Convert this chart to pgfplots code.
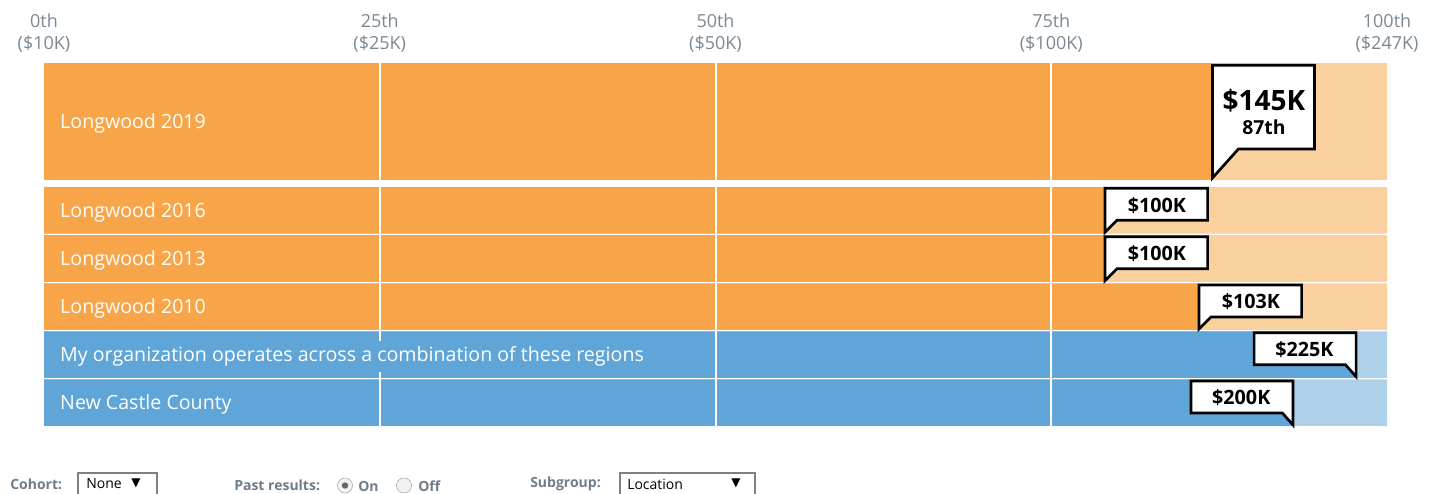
\documentclass[border=0pt]{standalone}
\usepackage{pgfplots}
\pgfplotsset{compat=1.18}
\usepackage{fontspec}
\setmainfont{Open Sans}
\newfontfamily\symfont{DejaVu Sans}
\definecolor{orD}{RGB}{247,165,72}
\definecolor{orL}{RGB}{249,208,158}
\definecolor{blD}{RGB}{96,165,216}
\definecolor{blL}{RGB}{174,209,233}
\definecolor{tickgray}{RGB}{122,136,150}
\definecolor{uigray}{RGB}{110,125,140}
% callout marks, 1px = 0.75pt; tip at data point
\pgfdeclareplotmark{callL}{%
  \pgfpathmoveto{\pgfpoint{0pt}{0pt}}%
  \pgfpathlineto{\pgfpoint{0pt}{33pt}}%
  \pgfpathlineto{\pgfpoint{77pt}{33pt}}%
  \pgfpathlineto{\pgfpoint{77pt}{9pt}}%
  \pgfpathlineto{\pgfpoint{9pt}{9pt}}%
  \pgfpathclose
  \pgfusepathqfillstroke}
\pgfdeclareplotmark{callBig}{%
  \pgfpathmoveto{\pgfpoint{0pt}{0pt}}%
  \pgfpathlineto{\pgfpoint{0pt}{84.5pt}}%
  \pgfpathlineto{\pgfpoint{76.5pt}{84.5pt}}%
  \pgfpathlineto{\pgfpoint{76.5pt}{21.75pt}}%
  \pgfpathlineto{\pgfpoint{19.5pt}{21.75pt}}%
  \pgfpathclose
  \pgfusepathqfillstroke}
\pgfdeclareplotmark{callR}{%
  \pgfpathmoveto{\pgfpoint{0pt}{0pt}}%
  \pgfpathlineto{\pgfpoint{0pt}{33pt}}%
  \pgfpathlineto{\pgfpoint{-76.5pt}{33pt}}%
  \pgfpathlineto{\pgfpoint{-76.5pt}{9pt}}%
  \pgfpathlineto{\pgfpoint{-8pt}{9pt}}%
  \pgfpathclose
  \pgfusepathqfillstroke}
\begin{document}
\begin{tikzpicture}
\begin{axis}[
  at={(0pt,0pt)}, anchor=south west,
  scale only axis, width=1074.75pt, height=369.75pt,
  xmin=-3.2762, xmax=103.4252, ymin=0, ymax=493,
  clip=false,
  axis line style={draw=none},
  major tick length=0pt,
  ytick=\empty,
  xtick={0,25,50,75,100},
  xticklabels={{0th\\(\$10K)},{25th\\(\$25K)},{50th\\(\$50K)},{75th\\(\$100K)},{100th\\(\$247K)}},
  xticklabel pos=upper,
  xticklabel style={align=center, text=tickgray, font=\fontsize{13.5}{16.5}\selectfont, anchor=north, yshift=-6.5pt},
  callout/.style={only marks, mark options={fill=white, draw=black, line width=2pt, line join=miter}},
]
% full-width (light) bars
\addplot[xbar, bar shift=0pt, bar width=117, draw=none, fill=orL] coordinates {(100,371.5)};
\addplot[xbar, bar shift=0pt, bar width=46.5, draw=none, fill=orL] coordinates {(100,282.5) (100,234.5) (100,186.5)};
\addplot[xbar, bar shift=0pt, bar width=46.5, draw=none, fill=blL] coordinates {(100,138.5) (100,90.5)};
% percentile (dark) bars
\addplot[xbar, bar shift=0pt, bar width=117, draw=none, fill=orD] coordinates {(87,371.5)};
\addplot[xbar, bar shift=0pt, bar width=46.5, draw=none, fill=orD] coordinates {(79,282.5) (79,234.5) (86,186.5)};
\addplot[xbar, bar shift=0pt, bar width=46.5, draw=none, fill=blD] coordinates {(97.7,138.5) (93,90.5)};
% white grid lines
\addplot[white, line width=1.5pt] coordinates {(25,67) (25,430)};
\addplot[white, line width=1.5pt] coordinates {(50,67) (50,430)};
\addplot[white, line width=1.5pt] coordinates {(75,67) (75,430)};
% row labels
\begin{scope}[every node/.style={anchor=west, text=white, inner sep=0pt, font=\fontsize{14.7}{17}\selectfont}]
\node at (axis cs:1.19,369.5) {Longwood 2019};
\node at (axis cs:1.19,280.5) {Longwood 2016};
\node at (axis cs:1.19,232.5) {Longwood 2013};
\node at (axis cs:1.19,184.5) {Longwood 2010};
\node[fill=blD, inner ysep=4pt] at (axis cs:1.19,136.5) {My organization operates across a combination of these regions};
\node at (axis cs:1.19,88.5) {New Castle County};
\end{scope}
% callouts
\addplot[callout, mark=callBig, nodes near coords={\fontsize{21}{20}\selectfont\bfseries \$145K\\[5pt]\fontsize{14.5}{20}\selectfont\bfseries 87th},
  nodes near coords style={anchor=center, align=center, xshift=38.6pt, yshift=49.5pt, text=black}] coordinates {(87,315)};
\addplot[callout, mark=callL, point meta=explicit symbolic, nodes near coords,
  nodes near coords style={anchor=center, xshift=39pt, yshift=20.2pt, text=black, font=\fontsize{14.8}{17}\selectfont\bfseries}]
  coordinates {(79,260.7) [\$100K] (79,212.3) [\$100K] (86,164) [\$103K]};
\addplot[callout, mark=callR, point meta=explicit symbolic, nodes near coords,
  nodes near coords style={anchor=center, xshift=-38.8pt, yshift=20.2pt, text=black, font=\fontsize{14.8}{17}\selectfont\bfseries}]
  coordinates {(97.7,116.3) [\$225K] (93,68) [\$200K]};
\end{axis}
% bottom controls (pixel coordinates, y down)
\begin{scope}[x=0.75pt, y=-0.75pt, shift={(0pt,369.75pt)}]
\begin{scope}[every node/.style={inner sep=0pt, anchor=west}]
\node[text=uigray, font=\fontsize{10.5}{12}\selectfont\bfseries] at (10,484) {Cohort:};
\draw[gray, line width=0.8pt] (78,473) rectangle (157,505);
\node[font=\fontsize{10.5}{12}\selectfont] at (86,484) {None};
\node[font=\fontsize{9}{11}\symfont] at (131,483) {▼};
\node[text=uigray, font=\fontsize{10.5}{12}\selectfont\bfseries] at (234,485) {Past results:};
\draw[gray!70, fill=gray!10] (345,485.5) circle (7.5);
\fill[gray!80!black] (345,485.5) circle (3.2);
\node[text=uigray, font=\fontsize{10.5}{12}\selectfont\bfseries] at (358,486) {On};
\draw[gray!70, fill=gray!10] (404,485.5) circle (7.5);
\node[text=uigray, font=\fontsize{10.5}{12}\selectfont\bfseries] at (418,486) {Off};
\node[text=uigray, font=\fontsize{10.5}{12}\selectfont\bfseries] at (530,484) {Subgroup:};
\draw[gray, line width=0.8pt] (620,473) rectangle (755,505);
\node[font=\fontsize{10.5}{12}\selectfont] at (627,484) {Location};
\node[font=\fontsize{9}{11}\symfont] at (731,483) {▼};
\end{scope}
\end{scope}
\pgfresetboundingbox
\path (0pt,0pt) rectangle (1074.75pt,369.75pt);
\end{tikzpicture}
\end{document}
